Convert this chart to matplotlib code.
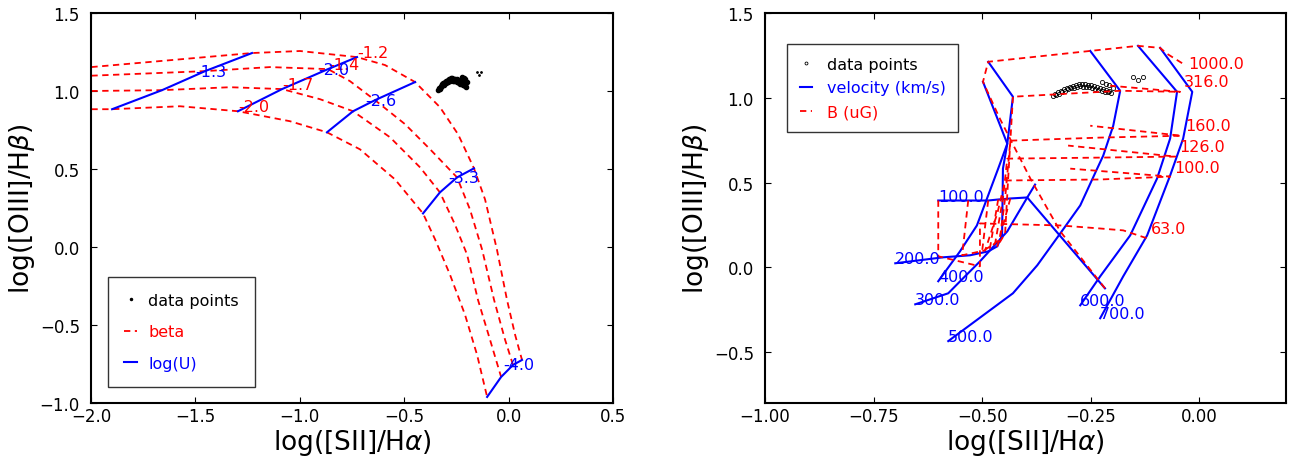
import numpy as np
import matplotlib
matplotlib.use("Agg")
import matplotlib.pyplot as plt

# observed line ratios (log [SII]/Ha, log [OIII]/Hb)
obs_x = [-0.336, -0.333, -0.329, -0.326, -0.322, -0.319, -0.316, -0.312, -0.309, -0.305,
         -0.302, -0.298, -0.295, -0.291, -0.288, -0.284, -0.281, -0.277, -0.274, -0.270,
         -0.267, -0.263, -0.260, -0.256, -0.253, -0.249, -0.246, -0.242, -0.239, -0.235,
         -0.232, -0.228, -0.225, -0.221, -0.218, -0.214, -0.211, -0.207, -0.204,
         -0.225, -0.215, -0.208, -0.198, -0.152, -0.130, -0.140]
obs_y = [1.008, 1.022, 1.015, 1.031, 1.024, 1.042, 1.035, 1.050, 1.041, 1.058,
         1.049, 1.066, 1.055, 1.071, 1.060, 1.078, 1.064, 1.082, 1.067, 1.080,
         1.066, 1.079, 1.064, 1.077, 1.061, 1.074, 1.058, 1.070, 1.053, 1.064,
         1.047, 1.058, 1.042, 1.052, 1.036, 1.045, 1.031, 1.038, 1.027,
         1.090, 1.082, 1.074, 1.060, 1.121, 1.120, 1.104]

# photoionisation grid: one track per beta, sampled along log(U)
beta_vals = ["-1.2", "-1.4", "-1.7", "-2.0"]
logu_vals = ["-1.3", "-2.0", "-2.6", "-3.3", "-4.0"]
logu_idx = [1, 3, 5, 8, 13]   # where each log(U) sits on the tracks

beta_x = [
    [-2.05, -1.229, -0.999, -0.726, -0.592, -0.448, -0.329, -0.242, -0.166, -0.113, -0.056, -0.008, 0.031, 0.064],
    [-2.05, -1.454, -1.143, -0.865, -0.760, -0.640, -0.496, -0.376, -0.247, -0.185, -0.127, -0.070, -0.017, 0.021],
    [-2.05, -1.660, -1.334, -1.085, -0.903, -0.745, -0.568, -0.424, -0.329, -0.257, -0.199, -0.147, -0.089, -0.036],
    [-2.05, -1.899, -1.574, -1.296, -1.047, -0.870, -0.712, -0.544, -0.410, -0.352, -0.281, -0.209, -0.151, -0.103],
]
beta_y = [
    [1.147, 1.243, 1.256, 1.217, 1.166, 1.057, 0.896, 0.722, 0.504, 0.305, -0.017, -0.338, -0.563, -0.724],
    [1.095, 1.127, 1.153, 1.140, 1.063, 0.941, 0.787, 0.626, 0.446, 0.240, -0.017, -0.338, -0.595, -0.756],
    [0.999, 1.005, 1.024, 1.012, 0.947, 0.870, 0.703, 0.510, 0.350, 0.144, -0.049, -0.338, -0.595, -0.833],
    [0.883, 0.883, 0.902, 0.870, 0.806, 0.735, 0.626, 0.433, 0.215, 0.048, -0.177, -0.434, -0.692, -0.961],
]

# shock grid: velocity tracks (km/s), low field -> high field
vel_labels = ["100.0", "200.0", "300.0", "400.0", "500.0", "600.0", "700.0"]
vel_x = [
    [-0.601, -0.532, -0.486, -0.463, -0.435, -0.396, -0.217],
    [-0.700, -0.590, -0.528, -0.486, -0.465, -0.454, -0.452, -0.442, -0.498],
    [-0.654, -0.578, -0.544, -0.505, -0.442, -0.396, -0.378],
    [-0.601, -0.551, -0.512, -0.463, -0.442, -0.429, -0.486],
    [-0.578, -0.429, -0.373, -0.320, -0.274, -0.235, -0.221, -0.198, -0.182, -0.251],
    [-0.274, -0.228, -0.159, -0.097, -0.067, -0.051, -0.141],
    [-0.228, -0.175, -0.120, -0.067, -0.037, -0.016, -0.090],
]
vel_y = [
    [0.394, 0.394, 0.394, 0.400, 0.406, 0.412, -0.124],
    [0.024, 0.059, 0.071, 0.094, 0.124, 0.188, 0.582, 0.729, 1.094],
    [-0.218, -0.153, -0.065, 0.035, 0.212, 0.412, 0.488],
    [-0.082, 0.094, 0.247, 0.582, 0.729, 1.006, 1.212],
    [-0.435, -0.153, 0.012, 0.200, 0.365, 0.582, 0.659, 0.835, 1.041, 1.276],
    [-0.224, -0.053, 0.188, 0.524, 0.759, 1.035, 1.306],
    [-0.300, -0.053, 0.188, 0.541, 0.759, 1.035, 1.294],
]

# shock grid: magnetic field tracks (uG), low velocity -> high velocity
b_labels = ["1000.0", "316.0", "160.0", "126.0", "100.0", "63.0"]
b_x = [
    [-0.217, -0.320, -0.389, -0.459, -0.498, -0.486, -0.251, -0.141, -0.090, -0.074, -0.037],
    [-0.435, -0.465, -0.447, -0.440, -0.429, -0.182, -0.044, -0.205],
    [-0.463, -0.482, -0.459, -0.447, -0.435, -0.228, -0.041, -0.251],
    [-0.486, -0.500, -0.470, -0.452, -0.442, -0.228, -0.055, -0.302],
    [-0.532, -0.546, -0.493, -0.465, -0.447, -0.228, -0.067, -0.297],
    [-0.601, -0.601, -0.505, -0.505, -0.320, -0.228, -0.175, -0.120],
]
b_y = [
    [-0.124, 0.212, 0.524, 0.876, 1.094, 1.212, 1.276, 1.306, 1.294, 1.259, 1.200],
    [0.406, 0.124, 0.200, 0.524, 1.006, 1.041, 1.035, 1.071],
    [0.400, 0.112, 0.171, 0.406, 0.747, 0.765, 0.776, 0.835],
    [0.394, 0.094, 0.141, 0.406, 0.641, 0.647, 0.653, 0.718],
    [0.394, 0.071, 0.100, 0.318, 0.512, 0.518, 0.535, 0.582],
    [0.394, 0.065, 0.006, 0.259, 0.247, 0.229, 0.218, 0.171],
]
# label nudges for the field tracks, in points
b_label_off = [(4, -3), (3, 4), (3, 4), (3, 4), (3, 3), (3, 4)]

dash = (0, (3.5, 2.5))
plt.rcParams['font.family'] = 'DejaVu Sans'

fig = plt.figure(figsize=(12.89, 4.6), dpi=100)
ax1 = fig.add_axes([0.0706, 0.1217, 0.405, 0.848])
ax2 = fig.add_axes([0.5935, 0.1217, 0.4042, 0.848])

# ---- left: photoionisation models
ax1.plot(obs_x[:43], obs_y[:43], '.', color='k', ms=6, label='data points')
ax1.plot(obs_x[43:], obs_y[43:], '.', color='k', ms=2)
for i in range(len(beta_vals)):
    ax1.plot(beta_x[i], beta_y[i], color='r', ls=dash, lw=1.3,
             label='beta' if i == 0 else None)
    j = logu_idx[1]
    ax1.text(beta_x[i][j], beta_y[i][j], beta_vals[i], color='r', fontsize=11.5)
for k in range(len(logu_vals)):
    j = logu_idx[k]
    xs = [beta_x[i][j] for i in range(len(beta_vals))]
    ys = [beta_y[i][j] for i in range(len(beta_vals))]
    ax1.plot(xs, ys, color='b', lw=1.5, label='log(U)' if k == 0 else None)
    ax1.text(xs[1] + 0.03, ys[1], logu_vals[k], color='b', fontsize=11.5,
             ha='center', va='center')

ax1.set_xlim(-2.0, 0.5)
ax1.set_ylim(-1.0, 1.5)
ax1.set_xticks(np.arange(-2.0, 0.51, 0.5))
ax1.set_yticks(np.arange(-1.0, 1.51, 0.5))
ax1.set_xlabel(r'log([SII]/H$\alpha$)', fontsize=19, labelpad=1)
ax1.set_ylabel(r'log([OIII]/H$\beta$)', fontsize=19, labelpad=2)
ax1.legend(loc='lower left', bbox_to_anchor=(0.033, 0.041), borderaxespad=0,
           fancybox=False, edgecolor='k', fontsize=11.5, handlelength=0.8,
           handletextpad=0.7, borderpad=1.0, labelspacing=1.05, markerscale=0.5,
           labelcolor=['k', 'r', 'b'])

# ---- right: shock models
ax2.plot(obs_x, obs_y, 'o', mfc='none', mec='k', ms=3, mew=0.6, label='data points')
for k in range(len(vel_labels)):
    ax2.plot(vel_x[k], vel_y[k], color='b', lw=1.5,
             label='velocity (km/s)' if k == 0 else None)
    ax2.text(vel_x[k][0], vel_y[k][0], vel_labels[k], color='b', fontsize=11.5)
for k in range(len(b_labels)):
    ax2.plot(b_x[k], b_y[k], color='r', ls=dash, lw=1.3,
             label='B (uG)' if k == 0 else None)
    j = int(np.argmax(b_x[k]))
    ax2.annotate(b_labels[k], (b_x[k][j], b_y[k][j]), xytext=b_label_off[k],
                 textcoords='offset points', color='r', fontsize=11.5)

ax2.set_xlim(-1.0, 0.2)
ax2.set_ylim(-0.8, 1.5)
ax2.set_xticks([-1.0, -0.75, -0.5, -0.25, 0.0])
ax2.set_xticklabels(['\u22121.00', '\u22120.75', '\u22120.50', '\u22120.25', '0.00'])
ax2.set_yticks([-0.5, 0.0, 0.5, 1.0, 1.5])
ax2.set_xlabel(r'log([SII]/H$\alpha$)', fontsize=19, labelpad=1)
ax2.set_ylabel(r'log([OIII]/H$\beta$)', fontsize=19, labelpad=2)
ax2.legend(loc='lower left', bbox_to_anchor=(0.042, 0.695), borderaxespad=0,
           fancybox=False, edgecolor='k', fontsize=11.5, handlelength=0.8,
           handletextpad=0.9, borderpad=0.8, labelspacing=0.55, markerscale=0.7,
           labelcolor=['k', 'b', 'r'])

for ax in (ax1, ax2):
    ax.tick_params(direction='in', top=True, right=True, labelsize=12, length=4)
    ax.tick_params(axis='x', pad=3)
    ax.tick_params(axis='y', pad=8)
    for s in ax.spines.values():
        s.set_linewidth(1.5)

fig.savefig('out.png', dpi=100)
